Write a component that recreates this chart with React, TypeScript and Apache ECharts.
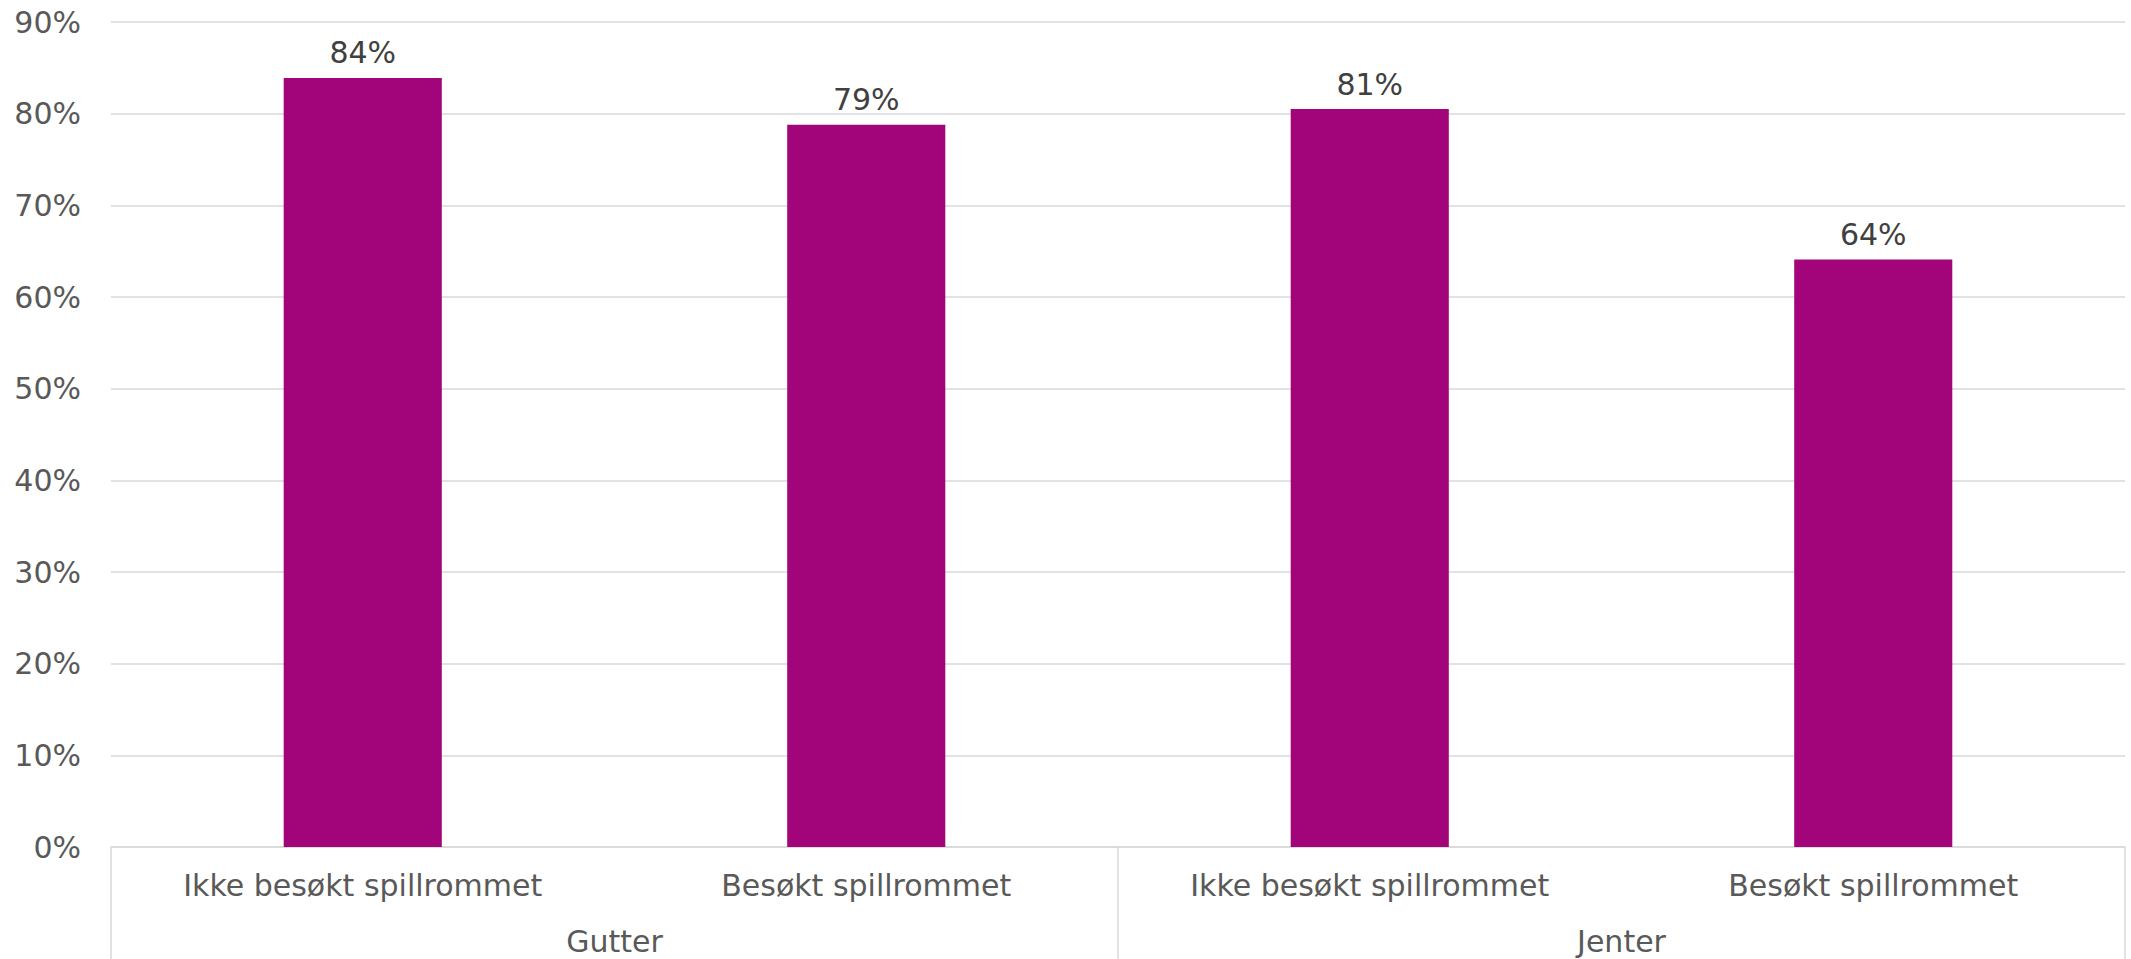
import React, { useEffect, useRef } from "react";
import * as echarts from "echarts";

const categories = [
  "Ikke besøkt spillrommet",
  "Besøkt spillrommet",
  "Ikke besøkt spillrommet",
  "Besøkt spillrommet",
];
const groups = ["Gutter", "Jenter"];
const values = [83.9, 78.8, 80.5, 64.1];
const labels = ["84%", "79%", "81%", "64%"];

const FONT = "DejaVu Sans";
const GRID = "#D9D9D9";
const FS = 30;

export default function App() {
  const ref = useRef<HTMLDivElement>(null);
  useEffect(() => {
    document.body.style.margin = "0";
    const chart = echarts.init(ref.current!, null, { renderer: "svg" });
    chart.setOption({
      animation: false,
      backgroundColor: "#FFFFFF",
      grid: { left: 111, right: 6, top: 22, bottom: 112, containLabel: false },
      xAxis: [
        {
          type: "category",
          data: categories,
          position: "bottom",
          axisLine: { show: true, lineStyle: { color: GRID, width: 1.5 } },
          axisTick: { show: false },
          axisLabel: {
            color: "#595959",
            fontFamily: FONT,
            fontSize: FS,
            margin: 23,
            interval: 0,
          },
        },
        {
          type: "category",
          data: groups,
          position: "bottom",
          offset: 112,
          axisLine: { show: false },
          axisTick: {
            show: true,
            inside: true,
            length: 112,
            lineStyle: { color: GRID, width: 1.5 },
          },
          axisLabel: {
            inside: true,
            color: "#595959",
            fontFamily: FONT,
            fontSize: FS,
            margin: 3,
            interval: 0,
          },
        },
      ],
      yAxis: {
        type: "value",
        min: 0,
        max: 90,
        interval: 10,
        axisLine: { show: false },
        axisTick: { show: false },
        axisLabel: {
          formatter: "{value}%",
          color: "#595959",
          fontFamily: FONT,
          fontSize: FS,
          margin: 30,
        },
        splitLine: { lineStyle: { color: GRID, width: 1.5 } },
      },
      series: [
        {
          type: "bar",
          xAxisIndex: 0,
          data: values,
          barWidth: "31.4%",
          itemStyle: { color: "#A10579" },
          label: {
            show: true,
            position: "top",
            distance: 10,
            color: "#404040",
            fontFamily: FONT,
            fontSize: FS,
            formatter: (p: any) => labels[p.dataIndex],
          },
        },
      ],
    });
    return () => chart.dispose();
  }, []);
  return (
    <div
      ref={ref}
      style={{ position: "fixed", left: 0, top: 0, width: 2131, height: 959 }}
    />
  );
}
